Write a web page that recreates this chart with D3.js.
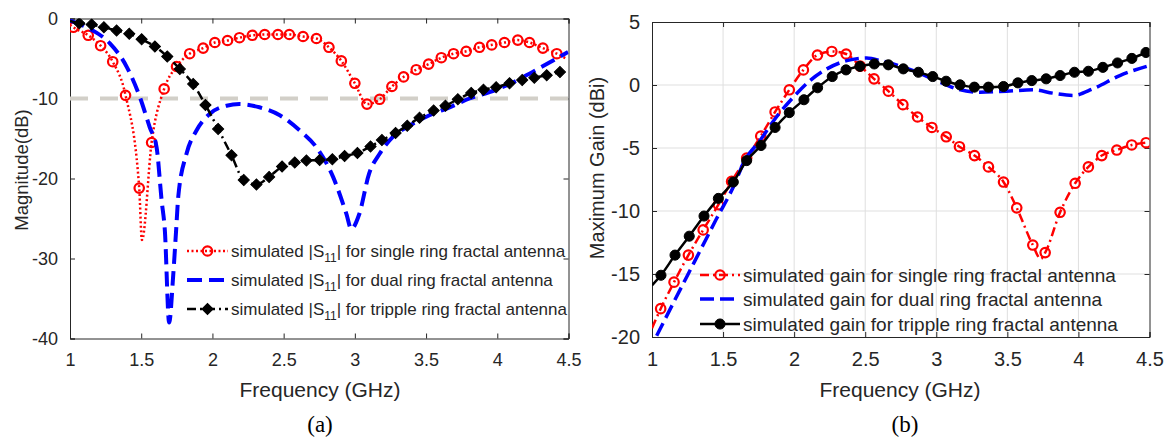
<!DOCTYPE html>
<html>
<head>
<meta charset="utf-8">
<script src="https://cdn.jsdelivr.net/npm/d3@7"></script>
<style>
  body { margin: 0; background: #fff; }
  svg { display: block; }
  text { font-family: "Liberation Sans", Arial, sans-serif; fill: #262626; }
</style>
</head>
<body>
<svg id="fig" width="1169" height="439"></svg>
<script>
// ---------- data ----------
const freqTicks = [1, 1.5, 2, 2.5, 3, 3.5, 4, 4.5];
const s11Ticks = [0, -10, -20, -30, -40];
const gainTicks = [5, 0, -5, -10, -15, -20];
const s11Threshold = -10;

// |S11| (dB) vs frequency (GHz), marker points
const s11Single = [[1.023,-1.1],[1.128,-2.1],[1.215,-3.4],[1.30,-5.4],[1.39,-9.6],[1.486,-21.2],[1.573,-15.5],[1.661,-8.8],[1.748,-6.0],[1.84,-4.4],[1.935,-3.7],[2.017,-3.0],[2.106,-2.75],[2.19,-2.4],[2.28,-2.1],[2.367,-2.0],[2.46,-2.0],[2.54,-2.0],[2.636,-2.25],[2.73,-2.5],[2.818,-3.6],[2.905,-5.3],[3.0,-8.1],[3.085,-10.7],[3.174,-10.1],[3.26,-8.5],[3.342,-7.3],[3.431,-6.4],[3.518,-5.7],[3.607,-4.9],[3.693,-4.4],[3.782,-4.1],[3.875,-3.6],[3.961,-3.3],[4.05,-3.0],[4.144,-2.7],[4.226,-3.0],[4.32,-3.7],[4.418,-4.4]];
// extra sweep points between markers
const s11SingleExtra = [[1.0,-0.8],[1.505,-27.7],[4.483,-5.0]];

const s11Dual = [[1.0,-0.25],[1.08,-0.8],[1.16,-1.5],[1.28,-3.1],[1.40,-6.1],[1.49,-9.8],[1.56,-13.6],[1.608,-16.1],[1.643,-22.7],[1.666,-26.5],[1.696,-38.0],[1.725,-32.0],[1.745,-26.5],[1.76,-22.3],[1.818,-16.9],[1.888,-14.0],[1.982,-11.9],[2.099,-10.9],[2.19,-10.7],[2.33,-11.1],[2.473,-12.1],[2.613,-14.0],[2.73,-16.1],[2.847,-19.8],[2.94,-24.4],[2.975,-26.3],[3.03,-24.5],[3.10,-19.4],[3.174,-16.9],[3.267,-14.8],[3.384,-13.4],[3.524,-12.1],[3.665,-11.1],[3.805,-10.0],[3.945,-9.2],[4.085,-8.2],[4.226,-6.9],[4.366,-5.5],[4.497,-4.2]];

const s11Triple = [[1.065,-0.6],[1.152,-0.75],[1.238,-1.1],[1.327,-1.5],[1.416,-1.9],[1.503,-2.6],[1.596,-3.5],[1.683,-4.75],[1.771,-6.3],[1.865,-8.2],[1.951,-10.8],[2.04,-13.8],[2.134,-17.1],[2.22,-20.2],[2.309,-20.75],[2.398,-19.8],[2.489,-18.5],[2.578,-18.0],[2.66,-17.75],[2.753,-17.7],[2.842,-17.6],[2.928,-17.2],[3.018,-16.8],[3.11,-16.0],[3.19,-15.2],[3.286,-14.3],[3.368,-13.4],[3.454,-12.4],[3.553,-11.5],[3.636,-10.9],[3.723,-10.1],[3.817,-9.3],[3.903,-8.9],[3.992,-8.6],[4.086,-8.1],[4.175,-7.7],[4.26,-7.4],[4.347,-7.1],[4.44,-6.7]];
const s11TripleExtra = [[1.0,-0.3]];

// maximum gain (dBi) vs frequency (GHz)
const gainSingle = [[1.061,-17.75],[1.155,-15.65],[1.256,-13.5],[1.36,-11.5],[1.467,-9.5],[1.56,-7.65],[1.666,-5.8],[1.765,-4.06],[1.866,-2.14],[1.966,-0.38],[2.065,1.2],[2.164,2.38],[2.265,2.66],[2.366,2.46],[2.465,1.5],[2.562,0.49],[2.663,-0.49],[2.765,-1.56],[2.868,-2.54],[2.969,-3.37],[3.07,-4.11],[3.163,-4.9],[3.269,-5.6],[3.367,-6.5],[3.473,-7.7],[3.566,-9.75],[3.679,-12.7],[3.766,-13.3],[3.871,-10.1],[3.977,-7.8],[4.07,-6.5],[4.164,-5.6],[4.27,-5.16],[4.375,-4.76],[4.476,-4.58]];
const gainSingleExtra = [[1.0,-19.3],[3.735,-13.8]];

const gainDual = [[1.033,-19.9],[1.15,-17.3],[1.3,-14.0],[1.45,-10.7],[1.584,-7.8],[1.643,-6.2],[1.76,-4.4],[1.878,-2.5],[1.995,-0.96],[2.112,0.35],[2.23,1.28],[2.37,1.93],[2.51,2.14],[2.62,1.9],[2.838,1.14],[3.003,0.35],[3.143,-0.3],[3.307,-0.57],[3.494,-0.49],[3.682,-0.38],[3.822,-0.65],[3.963,-0.83],[4.103,-0.3],[4.291,0.75],[4.498,1.54]];

const gainTriple = [[1.063,-15.1],[1.162,-13.5],[1.262,-12.0],[1.366,-10.4],[1.467,-9.0],[1.572,-7.7],[1.666,-6.0],[1.767,-4.8],[1.866,-3.37],[1.966,-2.19],[2.069,-1.17],[2.165,-0.22],[2.268,0.67],[2.365,1.2],[2.463,1.48],[2.564,1.67],[2.663,1.6],[2.768,1.28],[2.874,1.01],[2.975,0.67],[3.069,0.3],[3.167,0.01],[3.268,-0.17],[3.367,-0.17],[3.473,-0.12],[3.574,0.17],[3.672,0.35],[3.773,0.49],[3.871,0.75],[3.972,1.01],[4.07,1.09],[4.172,1.4],[4.275,1.75],[4.376,2.11],[4.475,2.58]];
const gainTripleExtra = [[1.0,-15.9]];

const s11Legend = ["for single ring fractal antenna", "for dual ring fractal antenna", "for tripple ring fractal antenna"];
const gainLegend = ["simulated gain for single ring fractal antenna", "simulated gain for dual ring fractal antenna", "simulated gain for tripple ring fractal antenna"];

// ---------- drawing ----------
const svg = d3.select("#fig");
const AX = "#262626";
const RED = "#ff0000", BLUE = "#0000ff", BLACK = "#000000";
const plain = d => String(d);   // keep ASCII hyphen for negatives

const merge = (a, b) => a.concat(b || []).sort((p, q) => p[0] - q[0]);

function panel(opts) {
  const { xr, yr, ydom, yticks, tickFont, grid, clipId } = opts;
  const x = d3.scaleLinear().domain([1, 4.5]).range(xr);
  const y = d3.scaleLinear().domain(ydom).range(yr);
  const g = svg.append("g");

  g.append("clipPath").attr("id", clipId).append("rect")
    .attr("x", xr[0]).attr("y", yr[1]).attr("width", xr[1] - xr[0]).attr("height", yr[0] - yr[1]);

  if (grid) {
    g.append("g").selectAll("line").data(freqTicks.slice(1, -1)).join("line")
      .attr("x1", d => x(d)).attr("x2", d => x(d)).attr("y1", yr[0]).attr("y2", yr[1])
      .attr("stroke", "#dfdfdf").attr("stroke-width", 1);
    g.append("g").selectAll("line").data(yticks.slice(1, -1)).join("line")
      .attr("y1", d => y(d)).attr("y2", d => y(d)).attr("x1", xr[0]).attr("x2", xr[1])
      .attr("stroke", "#dfdfdf").attr("stroke-width", 1);
  }

  const TL = 5;
  // box axes with inward ticks on all four sides
  const xb = g.append("g").attr("transform", `translate(0,${yr[0]})`)
    .call(d3.axisBottom(x).tickValues(freqTicks).tickSize(-TL).tickPadding(TL + 10).tickFormat(plain));
  const xt = g.append("g").attr("transform", `translate(0,${yr[1]})`)
    .call(d3.axisTop(x).tickValues(freqTicks).tickSize(-TL).tickFormat(""));
  const yl = g.append("g").attr("transform", `translate(${xr[0]},0)`)
    .call(d3.axisLeft(y).tickValues(yticks).tickSize(-TL).tickPadding(TL + 7).tickFormat(plain));
  const yrt = g.append("g").attr("transform", `translate(${xr[1]},0)`)
    .call(d3.axisRight(y).tickValues(yticks).tickSize(-TL).tickFormat(""));
  [xb, xt, yl, yrt].forEach(a => {
    a.select(".domain").attr("stroke", AX).attr("stroke-width", 1);
    a.selectAll(".tick line").attr("stroke", AX);
    a.selectAll(".tick text").attr("fill", AX).style("font-size", tickFont + "px")
      .style("font-family", '"Liberation Sans", Arial, sans-serif');
  });
  xb.selectAll(".tick text").attr("dy", "0.71em");
  const plot = g.append("g").attr("clip-path", `url(#${clipId})`);
  return { x, y, g, plot };
}

function drawSeries(P, marked, extra, style) {
  const line = d3.line().x(d => P.x(d[0])).y(d => P.y(d[1])).curve(d3.curveMonotoneX);
  P.plot.append("path").datum(merge(marked, extra)).attr("d", line)
    .attr("fill", "none").attr("stroke", style.color).attr("stroke-width", style.width)
    .attr("stroke-dasharray", style.dash || null).attr("stroke-linejoin", "round");
  if (style.marker) {
    P.plot.append("g").selectAll("path").data(marked).join("path")
      .attr("transform", d => `translate(${P.x(d[0])},${P.y(d[1])})`)
      .call(style.marker);
  }
}

const openCircle = sel => sel.attr("d", d3.symbol(d3.symbolCircle, 70)())
  .attr("fill", "none").attr("stroke", RED).attr("stroke-width", 2.2);
const diamond = sel => sel.attr("d", d3.symbol(d3.symbolSquare, 62)())
  .attr("transform", function () { return d3.select(this).attr("transform") + " rotate(45)"; })
  .attr("fill", BLACK).attr("stroke", BLACK).attr("stroke-width", 1);
const dot = sel => sel.attr("d", d3.symbol(d3.symbolCircle, 80)())
  .attr("fill", BLACK).attr("stroke", BLACK).attr("stroke-width", 1);

// ---- panel (a): |S11| ----
const A = panel({ xr: [70, 568.5], yr: [338.5, 18.5], ydom: [-40, 0], yticks: s11Ticks, tickFont: 18, grid: false, clipId: "clipA" });
A.plot.append("line")
  .attr("x1", A.x(1)).attr("x2", A.x(4.5)).attr("y1", A.y(s11Threshold)).attr("y2", A.y(s11Threshold))
  .attr("stroke", "#d2cfc8").attr("stroke-width", 4).attr("stroke-dasharray", "18,12");

const s11Styles = [
  { color: RED, width: 2.5, dash: "2,2.5", marker: openCircle },
  { color: BLUE, width: 4, dash: "15,7" },
  { color: BLACK, width: 2.5, dash: "9,4,2,4", marker: diamond }
];
drawSeries(A, s11Single, s11SingleExtra, s11Styles[0]);
drawSeries(A, s11Dual, null, s11Styles[1]);
drawSeries(A, s11Triple, s11TripleExtra, s11Styles[2]);

// ---- panel (b): maximum gain ----
const B = panel({ xr: [652, 1149.5], yr: [337, 22], ydom: [-20, 5], yticks: gainTicks, tickFont: 20, grid: true, clipId: "clipB" });
const gainStyles = [
  { color: RED, width: 2.5, dash: "9,4,2,4", marker: openCircle },
  { color: BLUE, width: 3.5, dash: "14,6" },
  { color: BLACK, width: 2.5, marker: dot }
];
drawSeries(B, gainSingle, gainSingleExtra, gainStyles[0]);
drawSeries(B, gainDual, null, gainStyles[1]);
drawSeries(B, gainTriple, gainTripleExtra, gainStyles[2]);

// ---- legends ----
function legendSample(g, x0, x1, yy, st) {
  g.append("line").attr("x1", x0).attr("x2", x1).attr("y1", yy).attr("y2", yy)
    .attr("stroke", st.color).attr("stroke-width", st.width).attr("stroke-dasharray", st.dash || null);
  if (st.marker) {
    g.append("path").attr("transform", `translate(${(x0 + x1) / 2},${yy})`).call(st.marker);
  }
}
const legA = svg.append("g");
const legARows = [251, 280, 309];
s11Legend.forEach((t, i) => {
  legendSample(legA, 187, 228, legARows[i], s11Styles[i]);
  const tx = legA.append("text").attr("x", 231).attr("y", legARows[i] + 6).style("font-size", "17px");
  tx.append("tspan").text("simulated |S");
  tx.append("tspan").attr("dy", 5).style("font-size", "12px").text("11");
  tx.append("tspan").attr("dy", -5).text("| " + t);
});
const legB = svg.append("g");
const legBRows = [275, 299, 324];
gainLegend.forEach((t, i) => {
  legendSample(legB, 700, 740, legBRows[i], gainStyles[i]);
  legB.append("text").attr("x", 743).attr("y", legBRows[i] + 7).style("font-size", "19px").text(t);
});

// ---- axis titles and captions ----
svg.append("text").attr("x", 320).attr("y", 397).attr("text-anchor", "middle").style("font-size", "21px").text("Frequency (GHz)");
svg.append("text").attr("x", 900).attr("y", 397).attr("text-anchor", "middle").style("font-size", "21px").text("Frequency (GHz)");
svg.append("text").attr("transform", "translate(28,170) rotate(-90)").attr("text-anchor", "middle").style("font-size", "18.5px").text("Magnitude(dB)");
svg.append("text").attr("transform", "translate(604,168) rotate(-90)").attr("text-anchor", "middle").style("font-size", "20px").text("Maximum Gain (dBi)");
svg.append("text").attr("x", 320).attr("y", 432).attr("text-anchor", "middle")
  .style("font-family", '"Liberation Serif", "Times New Roman", serif').style("font-size", "23px").style("fill", "#000").text("(a)");
svg.append("text").attr("x", 905).attr("y", 432).attr("text-anchor", "middle")
  .style("font-family", '"Liberation Serif", "Times New Roman", serif').style("font-size", "23px").style("fill", "#000").text("(b)");
</script>
</body>
</html>
